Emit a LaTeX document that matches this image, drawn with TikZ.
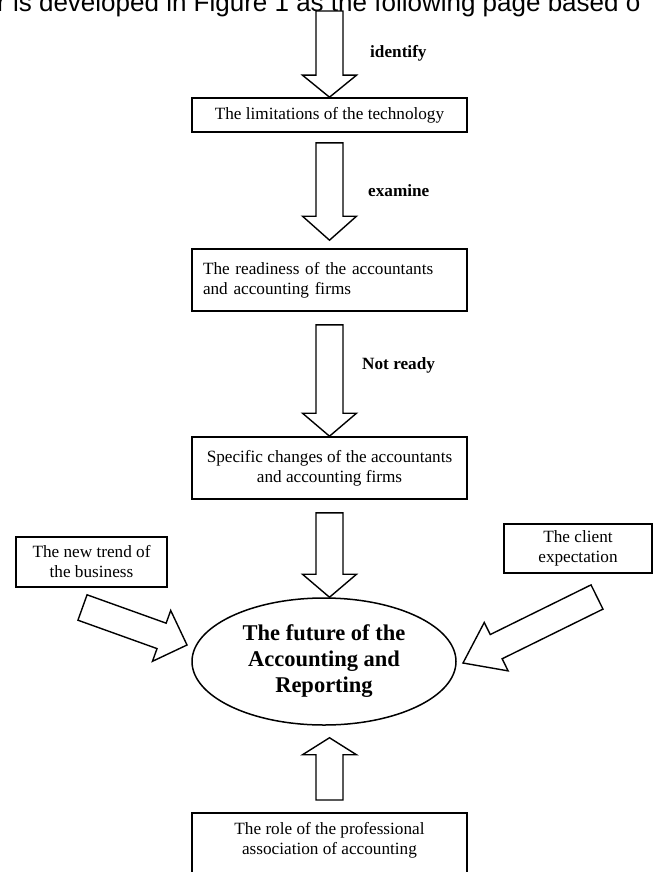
\documentclass[tikz,border=0pt]{standalone}
\usepackage{fontspec}
\setmainfont{Liberation Serif}
\newfontfamily\headfont{Liberation Sans}
\usetikzlibrary{shapes,arrows,positioning,calc}

\newcommand{\boxfont}{\fontsize{17.2}{20}\selectfont}
\newcommand{\lblfont}{\bfseries\fontsize{17.2}{20}\selectfont}
\newcommand{\goalfont}{\bfseries\fontsize{22.5}{26}\selectfont}

% hollow block arrow from #2 to #3, head length #1
\newcommand{\bigarrow}[3][23pt]{%
  \draw[blockarrow] ($(#2)!13.5pt!-90:(#3)$) -- ($(#3)!#1!(#2)!13.5pt!-90:(#3)$)
    -- ($(#3)!#1!(#2)!27pt!-90:(#3)$) -- (#3) -- ($(#3)!#1!(#2)!27pt!90:(#3)$)
    -- ($(#3)!#1!(#2)!13.5pt!90:(#3)$) -- ($(#2)!13.5pt!90:(#3)$) -- cycle;}

\tikzset{
  box/.style={draw, line width=1.6pt, inner sep=0pt, minimum width=275pt, align=center, font=\boxfont},
  goal/.style={ellipse, draw, line width=1.5pt, minimum width=264pt, minimum height=127pt, inner sep=0pt, align=center, font=\goalfont},
  lbl/.style={anchor=west, inner sep=0pt, font=\lblfont},
  blockarrow/.style={draw, fill=white, line width=1.4pt}
}

\begin{document}
\begin{tikzpicture}[x=1pt, y=-1pt]
    \useasboundingbox (0,0) rectangle (654,872);
    \clip (0,0) rectangle (654,872);

    % Line of the page above the figure
    \node[anchor=base west, inner sep=0pt, font=\headfont\fontsize{26}{30}\selectfont] (head) at (-3,12) {r is developed in Figure 1 as the following page based o};

    % Main chain of boxes
    \node[box, minimum height=34pt] (lim) at (329.5,115) {The limitations of the technology};
    \node[box, minimum height=62pt, text width=253pt, align=left] (ready) at (329.5,280) {The readiness of the accountants\\and accounting firms};
    \node[box, minimum height=62pt] (changes) at (329.5,468) {Specific changes of the accountants\\and accounting firms};

    % Side boxes
    \node[box, minimum width=151pt, minimum height=50pt] (trend) at (91.5,562) {The new trend of\\the business};
    \node[box, minimum width=148pt, minimum height=49pt] (client) at (578,548.5) {The client\\expectation};

    % Centre
    \node[goal] (future) at (324,661.5) {The future of the\\Accounting and\\Reporting};

    % Bottom box (runs off the page)
    \node[box, anchor=north, inner ysep=10pt, text depth=60pt] (role) at (329.5,812) {The role of the professional\\association of accounting};

    % Arrow ends
    \coordinate (in) at (329.5,11);
    \coordinate (a2) at ($(lim.south)+(0,10)$);
    \coordinate (t2) at ($(ready.north)+(0,-8)$);
    \coordinate (a3) at ($(ready.south)+(0,13)$);
    \coordinate (a4) at ($(changes.south)+(0,13)$);
    \coordinate (t4) at (a4 |- future.north);
    \coordinate (a5) at ($(role.north)+(0,-12)$);
    \coordinate (t5) at ($(a5 |- future.south)+(0,12)$);
    \coordinate (ltail) at (82.5,607.5);
    \coordinate (ltip) at (187,645);
    \coordinate (rtail) at (597,597);
    \coordinate (rtip) at (463,663);

    % Arrows
    \bigarrow[22pt]{in}{lim.north}
    \bigarrow[24pt]{a2}{t2}
    \bigarrow{a3}{changes.north}
    \bigarrow{a4}{t4}
    \bigarrow[17pt]{a5}{t5}
    \bigarrow[27pt]{ltail}{ltip}
    \bigarrow[37pt]{rtail}{rtip}

    % Arrow labels
    \node[lbl] (identify) at (370,53) {identify};
    \node[lbl] (examine) at (368,191) {examine};
    \node[lbl] (notready) at (362,365) {Not ready};
\end{tikzpicture}
\end{document}
